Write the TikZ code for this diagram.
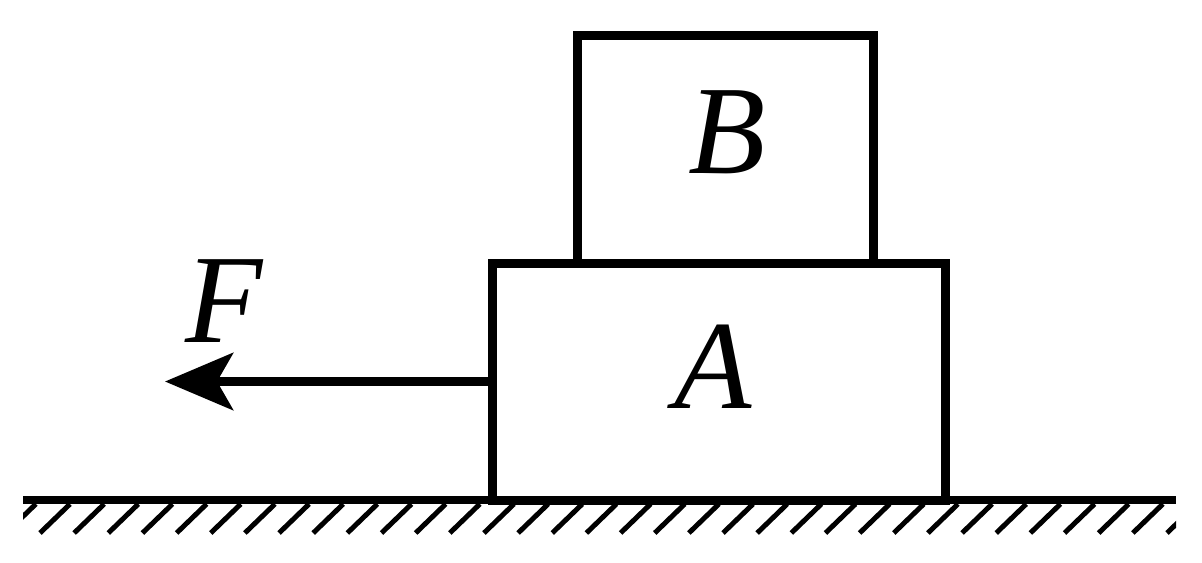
\documentclass[tikz,border=0pt]{standalone}
\usepackage{fontspec}
\setmainfont{Liberation Serif}
\usetikzlibrary{arrows.meta}

\begin{document}
\begin{tikzpicture}[scale=1,
    bloc/.style={draw,line width=0.09cm,minimum width=#1},
    lettre/.style={anchor=base,font=\fontsize{36}{42}\selectfont\itshape},
    force/.style={line width=0.09cm,-{Stealth[length=6.8mm,width=5.7mm,inset=1.6mm]}}]
      \useasboundingbox (0,0) rectangle (12.02,5.62);
      \def\sol{0.62}
      \def\pas{0.3415}

      % Sol
      \coordinate (G1) at (0.23,\sol);
      \coordinate (G2) at (11.76,\sol);
      \begin{scope}
        \clip (0.23,0.2) rectangle (11.76,\sol);
        \foreach \k in {-1,...,33}
          \draw[line width=0.05cm] ({0.40+\k*\pas},0.29) -- ({0.70+\k*\pas},0.58);
      \end{scope}
      \draw[line width=0.08cm] (G1) -- (G2);

      % Blocs
      \node[bloc=4.53cm,minimum height=2.37cm] (A) at (7.185,1.805) {};
      \node[bloc=2.96cm,minimum height=2.28cm] (B) at (7.25,4.13) {};

      % Force
      \coordinate (T) at (1.65,1.805);
      \draw[force] (A.west) -- (T);

      % Lettres
      \node[lettre] (lA) at (7.13,1.54) {A};
      \node[lettre] (lB) at (7.27,3.89) {B};
      \node[lettre] (lF) at (2.24,2.20) {F};
    \end{tikzpicture}
\end{document}
